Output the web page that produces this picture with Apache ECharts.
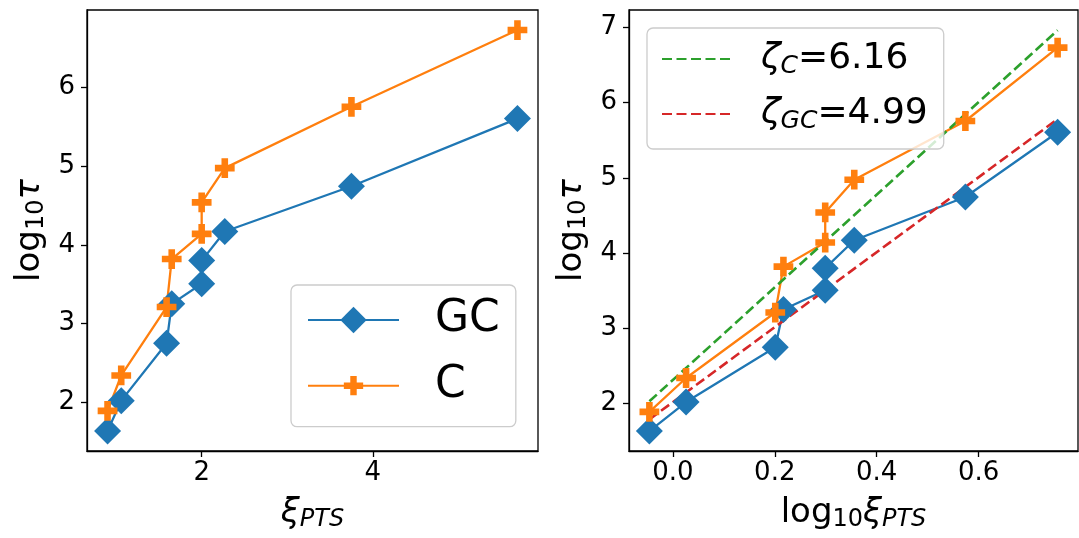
<!DOCTYPE html>
<html><head><meta charset="utf-8">
<script src="https://cdn.jsdelivr.net/npm/echarts@6/dist/echarts.min.js"></script>
<style>html,body{margin:0;padding:0;background:#fff}#c{width:1079px;height:538px}</style>
</head><body><div id="c"></div>
<script>
// ---- data ----
const xiPTS      = [0.90, 1.06, 1.59, 1.65, 2.00, 2.00, 2.27, 3.75, 5.69];
const log10XiPTS = [-0.046, 0.026, 0.201, 0.217, 0.299, 0.299, 0.356, 0.574, 0.755];
const log10TauGC = [1.635, 2.02, 2.75, 3.25, 3.505, 3.80, 4.17, 4.745, 5.605];
const log10TauC  = [1.89, 2.34, 3.21, 3.82, 4.14, 4.54, 4.975, 5.755, 6.73];
const fitX  = [-0.046, 0.755];
const fitC  = [2.03, 6.96];
const fitGC = [1.79, 5.78];
const seriesNames = ['GC', 'C'];
const fitNames = ['ζC=6.16', 'ζGC=4.99'];
const leftXTicks  = [2, 4];
const leftYTicks  = [2, 3, 4, 5, 6];
const rightXTicks = [0.0, 0.2, 0.4, 0.6];
const rightYTicks = [2, 3, 4, 5, 6, 7];

const FONT = 'DejaVu Sans';
const BLUE = '#1f77b4', ORANGE = '#ff7f0e', GREEN = '#2ca02c', RED = '#d62728';
const PLUS = 'path://M-4.1,-4.1M4.1,4.1M-1,-3L-1,-1L-3,-1L-3,1L-1,1L-1,3L1,3L1,1L3,1L3,-1L1,-1L1,-3Z';

const pairs = (xs, ys) => xs.map((x, i) => [x, ys[i]]);

const nameRich = {
  n:  {fontFamily: FONT, fontSize: 34, lineHeight: 40, color: '#000'},
  t:  {fontFamily: FONT, fontSize: 34, lineHeight: 40, color: '#000', fontStyle: 'italic'},
  s:  {fontFamily: FONT, fontSize: 24, lineHeight: 24, color: '#000', padding: [14, 0, 0, 0]},
  si: {fontFamily: FONT, fontSize: 24, lineHeight: 24, color: '#000', fontStyle: 'italic', padding: [14, 0, 0, 0]}
};

function axisCommon(ticks, extra) {
  return Object.assign({
    type: 'value',
    axisLine: {show: true, onZero: false, lineStyle: {color: '#000', width: 1.3}},
    splitLine: {show: false},
    axisTick: {show: true, length: 6, lineStyle: {color: '#000', width: 1.3}, customValues: ticks},
    axisLabel: {customValues: ticks, fontFamily: FONT, fontSize: 26, color: '#000'},
    nameLocation: 'middle',
    nameTextStyle: {rich: nameRich}
  }, extra);
}

const option = {
  animation: false,
  backgroundColor: '#fff',
  grid: [
    {left: 87, top: 10, width: 451, height: 441, show: true, borderColor: '#000', borderWidth: 1.3},
    {left: 629, top: 10, width: 449, height: 441, show: true, borderColor: '#000', borderWidth: 1.3}
  ],
  xAxis: [
    axisCommon(leftXTicks, {gridIndex: 0, min: 0.66, max: 5.93, name: '{t|ξ}{si|PTS}', nameGap: 42,
      axisLabel: {customValues: leftXTicks, fontFamily: FONT, fontSize: 26, color: '#000', margin: 9}}),
    axisCommon(rightXTicks, {gridIndex: 1, min: -0.086, max: 0.795, name: '{n|log}{s|10}{t|ξ}{si|PTS}', nameGap: 42,
      axisLabel: {customValues: rightXTicks, fontFamily: FONT, fontSize: 26, color: '#000', margin: 9,
        formatter: v => v.toFixed(1)}})
  ],
  yAxis: [
    axisCommon(leftYTicks, {gridIndex: 0, min: 1.38, max: 6.985, name: '{n|log}{s|10}{t|τ}', nameGap: 37, nameRotate: 90,
      axisLabel: {customValues: leftYTicks, fontFamily: FONT, fontSize: 26, color: '#000', margin: 12}}),
    axisCommon(rightYTicks, {gridIndex: 1, min: 1.37, max: 7.23, name: '{n|log}{s|10}{t|τ}', nameGap: 37, nameRotate: 90,
      axisLabel: {customValues: rightYTicks, fontFamily: FONT, fontSize: 26, color: '#000', margin: 12}})
  ],
  legend: [
    {
      data: seriesNames, orient: 'vertical', left: 291, top: 285,
      itemWidth: 91, itemHeight: 33, itemGap: 21.7,
      padding: [13, 16, 19, 16],
      backgroundColor: 'rgba(255,255,255,0.8)', borderColor: '#cccccc', borderWidth: 1.3, borderRadius: 6,
      selectedMode: false,
      formatter: name => '{a|' + name + '}',
      textStyle: {rich: {a: {fontFamily: FONT, fontSize: 44, lineHeight: 44, color: '#000', padding: [0, 0, 0, 31]}}}
    },
    {
      data: fitNames.map(n => ({name: n, itemStyle: {opacity: 0, color: 'transparent', borderWidth: 0}})),
      orient: 'vertical', left: 647, top: 28,
      itemWidth: 71, itemHeight: 14, itemGap: 15,
      padding: [11, 16, 15, 14],
      backgroundColor: 'rgba(255,255,255,0.8)', borderColor: '#cccccc', borderWidth: 1.3, borderRadius: 6,
      selectedMode: false,
      formatter: name => {
        const m = name.match(/^ζ([A-Z]+)(=.*)$/);
        return '{z|ζ}{s|' + m[1] + '}{v|' + m[2] + '}';
      },
      textStyle: {rich: {
        z: {fontFamily: FONT, fontSize: 36, lineHeight: 40, color: '#000', fontStyle: 'italic', padding: [0, 0, 0, 23]},
        s: {fontFamily: FONT, fontSize: 25, lineHeight: 25, color: '#000', fontStyle: 'italic', padding: [15, 0, 0, 0]},
        v: {fontFamily: FONT, fontSize: 36, lineHeight: 40, color: '#000'}
      }}
    }
  ],
  series: [
    {name: seriesNames[0], type: 'line', xAxisIndex: 0, yAxisIndex: 0, data: pairs(xiPTS, log10TauGC),
      symbol: 'diamond', symbolSize: 27, lineStyle: {color: BLUE, width: 2.3}, itemStyle: {color: BLUE}},
    {name: seriesNames[1], type: 'line', xAxisIndex: 0, yAxisIndex: 0, data: pairs(xiPTS, log10TauC),
      symbol: PLUS, symbolSize: 27, lineStyle: {color: ORANGE, width: 2.3}, itemStyle: {color: ORANGE}},
    {name: seriesNames[0], type: 'line', xAxisIndex: 1, yAxisIndex: 1, data: pairs(log10XiPTS, log10TauGC),
      symbol: 'diamond', symbolSize: 27, lineStyle: {color: BLUE, width: 2.3}, itemStyle: {color: BLUE}},
    {name: seriesNames[1], type: 'line', xAxisIndex: 1, yAxisIndex: 1, data: pairs(log10XiPTS, log10TauC),
      symbol: PLUS, symbolSize: 27, lineStyle: {color: ORANGE, width: 2.3}, itemStyle: {color: ORANGE}},
    {name: fitNames[0], type: 'line', xAxisIndex: 1, yAxisIndex: 1, data: pairs(fitX, fitC),
      symbol: 'circle', showSymbol: false, lineStyle: {color: GREEN, width: 2.6, type: [10, 4.5]}, itemStyle: {color: GREEN}},
    {name: fitNames[1], type: 'line', xAxisIndex: 1, yAxisIndex: 1, data: pairs(fitX, fitGC),
      symbol: 'circle', showSymbol: false, lineStyle: {color: RED, width: 2.6, type: [10, 4.5]}, itemStyle: {color: RED}}
  ]
};

const chart = echarts.init(document.getElementById('c'), null, {renderer: 'canvas'});
chart.setOption(option);
</script>
</body></html>
